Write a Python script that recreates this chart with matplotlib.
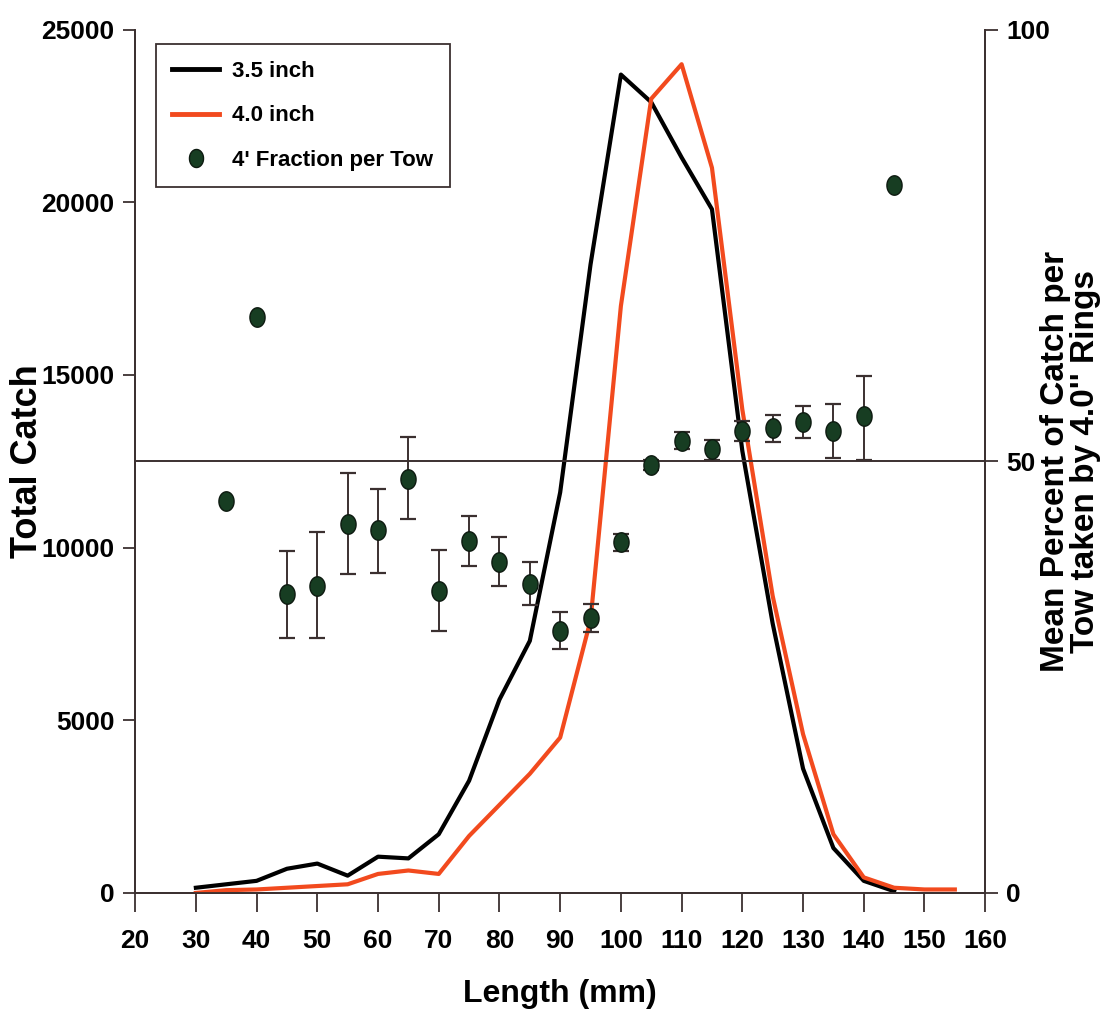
import matplotlib
matplotlib.use("Agg")
import matplotlib.pyplot as plt
from matplotlib.lines import Line2D
import numpy as np

# catch by length class
length = [30, 35, 40, 45, 50, 55, 60, 65, 70, 75, 80, 85, 90, 95, 100, 105,
          110, 115, 120, 125, 130, 135, 140, 145, 150, 155]
catch_35 = [150, 250, 350, 700, 850, 500, 1050, 1000, 1700, 3250, 5600, 7300,
            11600, 18200, 23700, 22900, 21300, 19800, 12800, 7800, 3600, 1300,
            350, 50, None, None]
catch_40 = [0, 80, 100, 150, 200, 250, 550, 650, 550, 1650, 2550, 3450, 4500,
            7900, 17000, 23000, 24000, 21000, 14000, 8600, 4600, 1700, 450,
            150, 100, 100]

# 4" fraction per tow (percent), with error bar ends
frac_x = [35, 40, 45, 50, 55, 60, 65, 70, 75, 80, 85, 90, 95, 100, 105, 110,
          115, 120, 125, 130, 135, 140, 145]
frac_y = [45.4, 66.7, 34.6, 35.6, 42.7, 42.0, 48.0, 35.0, 40.8, 38.3, 35.8,
          30.3, 31.8, 40.6, 49.6, 52.4, 51.4, 53.5, 53.9, 54.6, 53.5, 55.2, 82.0]
frac_hi = [None, None, 39.6, 41.8, 48.6, 46.8, 52.8, 39.7, 43.7, 41.2, 38.3,
           32.5, 33.5, 41.6, 50.2, 53.4, 52.5, 54.7, 55.4, 56.4, 56.6, 59.9, None]
frac_lo = [None, None, 29.5, 29.5, 36.9, 37.1, 43.3, 30.4, 37.9, 35.5, 33.4,
           28.2, 30.2, 39.6, 49.0, 51.4, 50.2, 52.4, 52.2, 52.7, 50.4, 50.2, None]

xticks = list(range(20, 161, 10))
yticks = [0, 5000, 10000, 15000, 20000, 25000]
yticks_r = [0, 50, 100]

font = ["Liberation Sans", "DejaVu Sans"]
axcol = "#3b3030"
orange = "#f24a1e"
green = "#173d22"

# slightly tall oval marker like the original
t = np.linspace(0, 2 * np.pi, 40)
oval = np.column_stack([0.78 * np.cos(t), np.sin(t)])

fig = plt.figure(figsize=(11.17, 10.24), dpi=100)
ax = fig.add_axes([0.121, 0.128, 0.761, 0.843])
ax2 = ax.twinx()

y35 = [v if v is not None else float("nan") for v in catch_35]
ax.plot(length, y35, color="black", lw=3, zorder=3)
ax.plot(length, catch_40, color=orange, lw=3, zorder=3)

ax2.axhline(50, color=axcol, lw=1.4, zorder=1)
for x, y, hi, lo in zip(frac_x, frac_y, frac_hi, frac_lo):
    if hi is None:
        continue
    ax2.errorbar([x], [y], yerr=[[y - lo], [hi - y]], fmt="none",
                 ecolor=axcol, elinewidth=1.4, capsize=6, capthick=1.6, zorder=2)
ax2.plot(frac_x, frac_y, ls="none", marker=oval, ms=14, color=green,
         mec="#0d1a10", mew=1, zorder=4)

ax.set_xlim(20, 160)
ax.set_ylim(0, 25000)
ax2.set_ylim(0, 100)
ax.set_xticks(xticks)
ax.set_yticks(yticks)
ax2.set_yticks(yticks_r)

for a in (ax, ax2):
    for s in a.spines.values():
        s.set_color(axcol)
        s.set_linewidth(1.3)
    a.spines["top"].set_visible(False)

ax.tick_params(axis="x", direction="out", length=14, width=1.3, color=axcol,
               pad=12)
ax.tick_params(axis="y", direction="out", length=9, width=1.3, color=axcol,
               pad=6)
ax2.tick_params(axis="y", direction="out", length=9, width=1.3, color=axcol,
                pad=6)
for lab in ax.get_xticklabels() + ax.get_yticklabels() + ax2.get_yticklabels():
    lab.set_family(font)
    lab.set_fontweight("bold")
    lab.set_fontsize(19)

ax.set_xlabel("Length (mm)", family=font, fontweight="bold", fontsize=23)
ax.xaxis.set_label_coords(0.5, -0.1)
ax.set_ylabel("Total Catch", family=font, fontweight="bold", fontsize=26)
ax.yaxis.set_label_coords(-0.106, 0.5)
ax2.set_ylabel("Mean Percent of Catch per\nTow taken by 4.0'' Rings",
               family=font, fontweight="bold", fontsize=24, linespacing=0.95,
               rotation=90)
ax2.yaxis.set_label_coords(1.065, 0.5)

handles = [Line2D([], [], color="black", lw=3.5),
           Line2D([], [], color=orange, lw=3.5),
           Line2D([], [], ls="none", marker=oval, ms=13, color=green,
                  mec="#0d1a10")]
leg = ax2.legend(handles, ["3.5 inch", "4.0 inch", "4' Fraction per Tow"],
                 loc="upper left", bbox_to_anchor=(0.024, 0.983),
                 borderaxespad=0, fancybox=False, framealpha=1,
                 edgecolor=axcol, handlelength=2.1, handletextpad=0.6,
                 borderpad=0.75, labelspacing=1.05,
                 prop={"family": font, "weight": "bold", "size": 16})
leg.get_frame().set_linewidth(1.3)

fig.savefig("out.png", dpi=100)
